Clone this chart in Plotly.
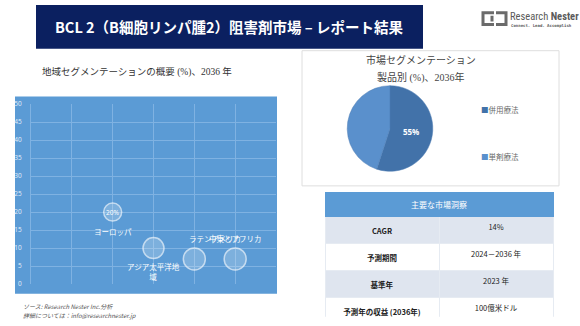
import plotly.graph_objects as go

W, H = 580, 326

# ---------------- data ----------------
regions = ["ヨーロッパ", "アジア太平洋地域", "ラテンアメリカ", "中東とアフリカ"]
region_x = [2, 3, 4, 5]
region_share = [20, 10, 7, 7]
bubble_size = [18, 21, 22, 22]
y_ticks = [0, 5, 10, 15, 20, 25, 30, 35, 40, 45, 50]

product_labels = ["併用療法", "単剤療法"]
product_share = [55, 45]

table_header = "主要な市場洞察"
table_keys = ["CAGR", "予測期間", "基準年", "予測年の収益 (2036年)"]
table_vals = ["14%", "2024－2036 年", "2023 年", "100億米ドル"]

title_text = "BCL 2（B細胞リンパ腫2）阻害剤市場 – レポート結果"
left_title = "地域セグメンテーションの概要 (%)、2036 年"
pie_title1 = "市場セグメンテーション"
pie_title2 = "製品別 (%)、2036年"

# ---------------- helpers ----------------
def px(x):
    return x / W

def py(y):
    return 1 - y / H

JP = "Noto Sans CJK JP"
SERIF = "Liberation Serif, Noto Sans CJK JP, serif"
BLUE = "#5b9bd5"

fig = go.Figure()

# ---------------- bubble chart ----------------
fig.add_trace(go.Scatter(
    x=region_x, y=region_share, mode="markers",
    marker=dict(size=bubble_size, color="rgba(255,255,255,0.30)",
                line=dict(color="rgba(255,255,255,0.9)", width=1.5)),
    xaxis="x", yaxis="y", showlegend=False, hoverinfo="skip", cliponaxis=False,
))

# ---------------- pie ----------------
pc = (390, 127)
pr = 44
fig.add_trace(go.Pie(
    labels=product_labels, values=product_share, sort=False,
    direction="clockwise", rotation=0,
    marker=dict(colors=["#4272a9", "#5a90cc"], line=dict(color="#4a7bb3", width=0.5)),
    text=[f"{product_share[0]}%", ""], textinfo="text", textposition="inside",
    insidetextfont=dict(color="white", size=8, family="Open Sans"),
    texttemplate="<b>%{text}</b>",
    domain=dict(x=[px(pc[0] - pr), px(pc[0] + pr)], y=[py(pc[1] + pr), py(pc[1] - pr)]),
    showlegend=False, hoverinfo="skip",
))

# ---------------- table ----------------
fig.add_trace(go.Table(
    domain=dict(x=[px(325), px(553)], y=[py(321), py(193)]),
    columnwidth=[1, 1],
    header=dict(values=["", ""], fill_color=BLUE, line_color=BLUE,
                font=dict(color="white", size=8, family=JP), align="center", height=24),
    cells=dict(values=[[f"<b>{k}</b>" for k in table_keys], table_vals],
               fill_color=[["#dfe5ef", "#ffffff", "#dfe5ef", "#ffffff"]] * 2,
               line_color="#e6ebf2",
               font=dict(color="#222222", size=7.5, family=JP),
               align="center", height=26),
))

fig.update_layout(
    width=W, height=H, margin=dict(l=0, r=0, t=0, b=0),
    paper_bgcolor="white", plot_bgcolor=BLUE,
    xaxis=dict(domain=[px(31), px(276)], range=[0, 6], dtick=1,
               showgrid=True, gridcolor="#7fb2e2", gridwidth=1,
               showticklabels=False, zeroline=False, showline=False, fixedrange=True),
    yaxis=dict(domain=[py(287), py(102)], range=[0, 50], tickvals=y_ticks,
               showgrid=True, gridcolor="#7fb2e2", gridwidth=1, zeroline=False,
               showline=True, linecolor="#7fb2e2",
               ticks="outside", ticklen=7, tickcolor="rgba(0,0,0,0)",
               tickfont=dict(color="#e3eef9", size=6.5, family="Open Sans")),
)

shapes = []
# title banner
shapes.append(dict(type="rect", xref="paper", yref="paper", x0=px(36), x1=px(423),
                   y0=py(45), y1=py(0), fillcolor="#0b2060", line_width=0, layer="below"))
# blue chart panel
shapes.append(dict(type="rect", xref="paper", yref="paper", x0=px(15), x1=px(277),
                   y0=py(297), y1=py(94), fillcolor=BLUE, line_width=0, layer="below"))
# pie panel box
shapes.append(dict(type="rect", xref="paper", yref="paper", x0=px(302), x1=px(559),
                   y0=py(186), y1=py(47), fillcolor="rgba(0,0,0,0)",
                   line=dict(color="#dedede", width=1), layer="below"))
# logo icon (two interlocking brackets)
shapes.append(dict(type="path", xref="paper", yref="paper",
                   path=f"M {px(494)},{py(8)} L {px(483)},{py(8)} L {px(483)},{py(20)} L {px(494)},{py(20)}",
                   line=dict(color="#6b6b6b", width=3)))
shapes.append(dict(type="path", xref="paper", yref="paper",
                   path=f"M {px(492)},{py(11)} L {px(492)},{py(17)} M {px(496)},{py(8)} L {px(506)},{py(8)} L {px(506)},{py(20)} L {px(496)},{py(20)}",
                   line=dict(color="#6b6b6b", width=3)))

ann = []

def A(text, x, y, size, color, family, xanchor="center", **kw):
    d = dict(text=text, x=px(x), y=py(y), xref="paper", yref="paper",
             xanchor=xanchor, yanchor="middle", showarrow=False,
             font=dict(color=color, size=size, family=family))
    d.update(kw)
    ann.append(d)

A(f"<b>{title_text}</b>", 229, 22, 14.5, "white", JP)
A("Research <b>Nester</b>", 508, 12, 10.5, "#5a5a5a", "Roboto Condensed, Liberation Sans Narrow, Roboto", "left")
A("<b>Connect. Lead. Accomplish</b>", 509, 21, 4, "#5a5a5a", "DejaVu Sans Mono", "left")
A(left_title, 137, 69, 9.5, "#333333", SERIF)
A(pie_title1, 421, 57, 10, "#444444", SERIF)
A(pie_title2, 421, 75, 10, "#444444", SERIF)
A(table_header, 439, 205, 8, "white", JP)

# pie legend (manual)
leg_colors = ["#4272a9", "#5a90cc"]
for i, (lab, yy) in enumerate(zip(product_labels, [107, 156])):
    A(f"<span style='color:{leg_colors[i]}'>■</span>{lab}", 479, yy, 7.5, "#6a6a6a", JP, "left")

# bubble labels
lab_font = dict(color="white", size=7.5, family=JP)
def B(text, i, yshift=0, xshift=0, font=lab_font):
    ann.append(dict(text=text, x=region_x[i], y=region_share[i], xref="x", yref="y",
                    xanchor="center", yanchor="middle", yshift=yshift, xshift=xshift,
                    showarrow=False, font=font))

B(f"{region_share[0]}%", 0, font=dict(color="white", size=6.5, family="Open Sans"))
B(regions[0], 0, yshift=-19)
B("アジア太平洋地<br>域", 1, yshift=-23)
B(regions[2], 2, yshift=20, xshift=21)
B(regions[3], 3, yshift=20)

# footer
A("<i>ソース: Research Nester Inc.分析</i>", 21, 310, 6, "#555555", JP, "left")
A("<i>詳細については：info@researchnester.jp</i>", 21, 319, 6, "#555555", JP, "left")

fig.update_layout(shapes=shapes, annotations=ann)
fig.write_html("out.html")
